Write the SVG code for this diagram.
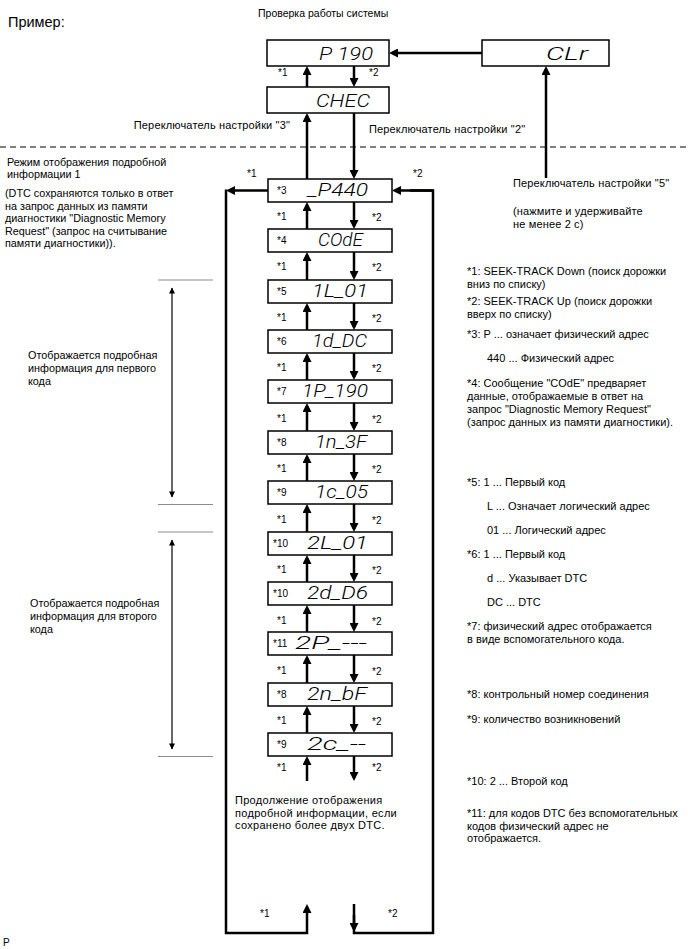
<svg xmlns="http://www.w3.org/2000/svg" width="688" height="949" viewBox="0 0 688 949">
<style>
text{font-family:"Liberation Sans",Arial,sans-serif;fill:#000}
.t{font-size:11px;letter-spacing:0.15px}
.l{font-size:10.8px}
.r{font-size:11px}
.b{font-size:11px;letter-spacing:0.3px}
.s{font-size:10px}
.h{font-size:14.5px}
.lcd{font-family:Roboto,"DejaVu Sans",sans-serif;font-style:italic;font-weight:300;font-size:19px;text-anchor:end}
.box{fill:#fff;stroke:#000;stroke-width:1.5}
.ar{fill:none;stroke:#000;stroke-width:2.5;marker-end:url(#ah)}
.ln{fill:none;stroke:#000;stroke-width:2.5}
.gl{stroke:#8c8c8c;stroke-width:1.2}
.dim{fill:none;stroke:#000;stroke-width:1.2;marker-start:url(#sh);marker-end:url(#sh)}
</style>
<defs>
<marker id="ah" viewBox="0 0 10 10" refX="6.7" refY="5" markerWidth="9" markerHeight="9" markerUnits="userSpaceOnUse" orient="auto">
<path d="M0,0 L10,5 L0,10 z" fill="#000"/>
</marker>
<marker id="sh" viewBox="0 0 10 10" refX="9" refY="5" markerWidth="8" markerHeight="6" markerUnits="userSpaceOnUse" orient="auto-start-reverse">
<path d="M0,0 L10,5 L0,10 z" fill="#000"/>
</marker>
</defs>

<text class="h" x="8" y="27">Пример:</text>
<text class="s" x="258" y="17" style="font-size:10.5px">Проверка работы системы</text>
<line x1="0" y1="147" x2="688" y2="147" stroke="#555" stroke-width="1.5" stroke-dasharray="6,4"/>

<g id="connectors">
<path class="ar" d="M482,53 H392"/>
<path class="ar" d="M546,178 V69"/>
<path class="ar" d="M307,87 V69"/>
<path class="ar" d="M354,66 V84"/>
<path class="ar" d="M307,179 V116"/>
<path class="ar" d="M354,113 V176"/>
<path class="ar" d="M268,190.5 H229"/>
<path class="ar" d="M226,189.5 V933 H307 V907"/>
<path class="ln" d="M354,904 V933 H433 V190.5 H410"/>
<path class="ar" d="M433,190.5 H395"/>
<path class="ar" d="M354,915 V929"/>
<path class="ar" d="M307,229 V205"/><path class="ar" d="M354,202 V226"/>
<path class="ar" d="M307,280 V255"/><path class="ar" d="M354,252 V277"/>
<path class="ar" d="M307,330 V306"/><path class="ar" d="M354,303 V327"/>
<path class="ar" d="M307,380 V356"/><path class="ar" d="M354,353 V377"/>
<path class="ar" d="M307,431 V406"/><path class="ar" d="M354,403 V428"/>
<path class="ar" d="M307,481 V457"/><path class="ar" d="M354,454 V478"/>
<path class="ar" d="M307,532 V507"/><path class="ar" d="M354,504 V529"/>
<path class="ar" d="M307,582 V558"/><path class="ar" d="M354,555 V579"/>
<path class="ar" d="M307,632 V608"/><path class="ar" d="M354,605 V629"/>
<path class="ar" d="M307,683 V658"/><path class="ar" d="M354,655 V680"/>
<path class="ar" d="M307,733 V709"/><path class="ar" d="M354,706 V730"/>
<path class="ar" d="M307,781 V759"/><path class="ar" d="M354,756 V778"/>
</g>

<g id="labels-arrows">
<text class="s" x="278" y="76">*1</text><text class="s" x="369" y="76">*2</text>
<text class="s" x="247" y="177">*1</text><text class="s" x="413" y="177">*2</text>
<text class="s" x="277" y="220">*1</text><text class="s" x="372" y="221">*2</text>
<text class="s" x="277" y="270">*1</text><text class="s" x="372" y="271">*2</text>
<text class="s" x="277" y="321">*1</text><text class="s" x="372" y="322">*2</text>
<text class="s" x="277" y="371">*1</text><text class="s" x="372" y="372">*2</text>
<text class="s" x="277" y="422">*1</text><text class="s" x="372" y="423">*2</text>
<text class="s" x="277" y="472">*1</text><text class="s" x="372" y="473">*2</text>
<text class="s" x="277" y="523">*1</text><text class="s" x="372" y="524">*2</text>
<text class="s" x="277" y="573">*1</text><text class="s" x="372" y="574">*2</text>
<text class="s" x="277" y="624">*1</text><text class="s" x="372" y="625">*2</text>
<text class="s" x="277" y="674">*1</text><text class="s" x="372" y="675">*2</text>
<text class="s" x="277" y="724">*1</text><text class="s" x="372" y="725">*2</text>
<text class="s" x="277" y="771">*1</text><text class="s" x="372" y="771">*2</text>
<text class="s" x="260" y="917">*1</text><text class="s" x="388" y="917">*2</text>
</g>

<g id="n-p190"><rect class="box" x="267" y="40" width="122" height="26"/><text class="lcd" x="373" y="59.5" textLength="54" lengthAdjust="spacingAndGlyphs">P 190</text></g>
<g id="n-clr"><rect class="box" x="482" y="40" width="127" height="26"/><text class="lcd" x="588" y="59.5" textLength="42" lengthAdjust="spacingAndGlyphs">CLr</text></g>
<g id="n-chec"><rect class="box" x="267" y="87" width="122" height="26"/><text class="lcd" x="370" y="106.5" textLength="54" lengthAdjust="spacingAndGlyphs">CHEC</text></g>

<g id="n1"><rect class="box" x="268" y="179" width="124" height="23"/><text class="s" x="277" y="194">*3</text><text class="lcd" x="368" y="196" textLength="60" lengthAdjust="spacingAndGlyphs">_P440</text></g>
<g id="n2"><rect class="box" x="268" y="229" width="124" height="23"/><text class="s" x="277" y="244">*4</text><text class="lcd" x="363" y="246" textLength="45" lengthAdjust="spacingAndGlyphs">COdE</text></g>
<g id="n3"><rect class="box" x="268" y="280" width="124" height="23"/><text class="s" x="277" y="295">*5</text><text class="lcd" x="368" y="297" textLength="56" lengthAdjust="spacingAndGlyphs">1L_01</text></g>
<g id="n4"><rect class="box" x="268" y="330" width="124" height="23"/><text class="s" x="277" y="345">*6</text><text class="lcd" x="367" y="347" textLength="55" lengthAdjust="spacingAndGlyphs">1d_DC</text></g>
<g id="n5"><rect class="box" x="268" y="380" width="124" height="23"/><text class="s" x="277" y="395">*7</text><text class="lcd" x="368" y="397" textLength="66" lengthAdjust="spacingAndGlyphs">1P_190</text></g>
<g id="n6"><rect class="box" x="268" y="431" width="124" height="23"/><text class="s" x="277" y="446">*8</text><text class="lcd" x="367" y="448" textLength="52" lengthAdjust="spacingAndGlyphs">1n_3F</text></g>
<g id="n7"><rect class="box" x="268" y="481" width="124" height="23"/><text class="s" x="277" y="496">*9</text><text class="lcd" x="368" y="498" textLength="53" lengthAdjust="spacingAndGlyphs">1c_05</text></g>
<g id="n8"><rect class="box" x="268" y="532" width="124" height="23"/><text class="s" x="273" y="547">*10</text><text class="lcd" x="368" y="549" textLength="61" lengthAdjust="spacingAndGlyphs">2L_01</text></g>
<g id="n9"><rect class="box" x="268" y="582" width="124" height="23"/><text class="s" x="273" y="597">*10</text><text class="lcd" x="368" y="599" textLength="61" lengthAdjust="spacingAndGlyphs">2d_D6</text></g>
<g id="n10"><rect class="box" x="268" y="632" width="124" height="23"/><text class="s" x="273" y="647">*11</text><text class="lcd" x="367" y="649" textLength="72" lengthAdjust="spacingAndGlyphs">2P_---</text></g>
<g id="n11"><rect class="box" x="268" y="683" width="124" height="23"/><text class="s" x="277" y="698">*8</text><text class="lcd" x="367" y="700" textLength="60" lengthAdjust="spacingAndGlyphs">2n_bF</text></g>
<g id="n12"><rect class="box" x="268" y="733" width="124" height="23"/><text class="s" x="277" y="748">*9</text><text class="lcd" x="366" y="750" textLength="59" lengthAdjust="spacingAndGlyphs">2c_--</text></g>

<g id="switch-labels">
<text class="t" x="290" y="129" text-anchor="end">Переключатель настройки "3"</text>
<text class="t" x="369" y="133">Переключатель настройки "2"</text>
<text class="t" x="513" y="187">Переключатель настройки "5"</text>
<text class="t" x="513" y="215">(нажмите и удерживайте</text>
<text class="t" x="513" y="228">не менее 2 с)</text>
</g>

<g id="left-notes">
<text class="l" x="7" y="166">Режим отображения подробной</text>
<text class="l" x="7" y="178">информации 1</text>
<text class="l" x="5" y="197">(DTC сохраняются только в ответ</text>
<text class="l" x="5" y="210">на запрос данных из памяти</text>
<text class="l" x="5" y="222">диагностики "Diagnostic Memory</text>
<text class="l" x="5" y="235">Request" (запрос на считывание</text>
<text class="l" x="5" y="247">памяти диагностики)).</text>
</g>

<g id="brackets">
<line class="gl" x1="158" y1="280" x2="213" y2="280"/>
<line class="gl" x1="158" y1="504.5" x2="213" y2="504.5"/>
<line class="gl" x1="158" y1="532" x2="213" y2="532"/>
<line class="gl" x1="158" y1="756.5" x2="213" y2="756.5"/>
<path class="dim" d="M172,288 V497"/>
<path class="dim" d="M172,540 V749"/>
<text class="l" x="28" y="359">Отображается подробная</text>
<text class="l" x="28" y="372">информация для первого</text>
<text class="l" x="28" y="385">кода</text>
<text class="l" x="30" y="607">Отображается подробная</text>
<text class="l" x="30" y="620">информация для второго</text>
<text class="l" x="30" y="633">кода</text>
</g>

<g id="bottom-note">
<text class="b" x="235" y="804">Продолжение отображения</text>
<text class="b" x="235" y="817">подробной информации, если</text>
<text class="b" x="235" y="829">сохранено более двух DTC.</text>
</g>

<g id="legend">
<text class="r" x="467" y="275">*1: SEEK-TRACK Down (поиск дорожки</text>
<text class="r" x="467" y="288">вниз по списку)</text>
<text class="r" x="467" y="305">*2: SEEK-TRACK Up (поиск дорожки</text>
<text class="r" x="467" y="318">вверх по списку)</text>
<text class="r" x="467" y="338">*3: P ... означает физический адрес</text>
<text class="r" x="487" y="362">440 ... Физический адрес</text>
<text class="r" x="467" y="387">*4: Сообщение "COdE" предваряет</text>
<text class="r" x="467" y="400">данные, отображаемые в ответ на</text>
<text class="r" x="467" y="413">запрос "Diagnostic Memory Request"</text>
<text class="r" x="467" y="426">(запрос данных из памяти диагностики).</text>
<text class="r" x="467" y="486">*5: 1 ... Первый код</text>
<text class="r" x="487" y="510">L ... Означает логический адрес</text>
<text class="r" x="487" y="534">01 ... Логический адрес</text>
<text class="r" x="467" y="558">*6: 1 ... Первый код</text>
<text class="r" x="487" y="582">d ... Указывает DTC</text>
<text class="r" x="487" y="606">DC ... DTC</text>
<text class="r" x="467" y="630">*7: физический адрес отображается</text>
<text class="r" x="467" y="643">в виде вспомогательного кода.</text>
<text class="r" x="467" y="698">*8: контрольный номер соединения</text>
<text class="r" x="467" y="723">*9: количество возникновений</text>
<text class="r" x="467" y="785">*10: 2 ... Второй код</text>
<text class="r" x="467" y="817">*11: для кодов DTC без вспомогательных</text>
<text class="r" x="467" y="830">кодов физический адрес не</text>
<text class="r" x="467" y="842">отображается.</text>
</g>
<text class="s" x="3" y="946">P</text>
</svg>
